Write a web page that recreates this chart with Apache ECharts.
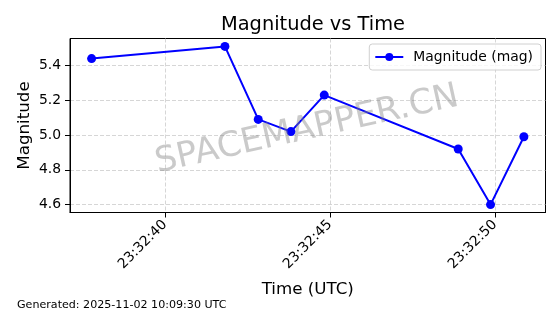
<!DOCTYPE html>
<html>
<head>
<meta charset="utf-8">
<script src="https://cdn.jsdelivr.net/npm/echarts@6/dist/echarts.min.js"></script>
<style>html,body{margin:0;padding:0;background:#fff}#c{width:560px;height:314px}</style>
</head>
<body>
<div id="c"></div>
<script>
// Time in seconds after 23:32:00 UTC
const timeSec = [37.78, 41.82, 42.83, 43.82, 44.83, 48.89, 49.87, 50.88];
const magnitude = [5.44, 5.51, 5.09, 5.02, 5.23, 4.92, 4.60, 4.99];
const xTicks = [40, 45, 50];
const yTicks = [4.6, 4.8, 5.0, 5.2, 5.4];
const timePrefix = '23:32:';
const titleText = 'Magnitude vs Time';
const seriesName = 'Magnitude (mag)';
const footerText = 'Generated: 2025-11-02 10:09:30 UTC';
const watermark = 'SPACEMAPPER.CN';

function pad(v){ const s = String(Math.round(v)); return s.length < 2 ? '0' + s : s; }
const xmin0 = Math.min(...timeSec), xmax0 = Math.max(...timeSec);
const ymin0 = Math.min(...magnitude), ymax0 = Math.max(...magnitude);
const xm = (xmax0 - xmin0) * 0.05, ym = (ymax0 - ymin0) * 0.05;

const FONT = 'DejaVu Sans';
const chart = echarts.init(document.getElementById('c'), null, {renderer: 'canvas'});
chart.setOption({
  animation: false,
  backgroundColor: '#fff',
  textStyle: {fontFamily: FONT},
  title: {
    text: titleText, left: 308, top: 10, textAlign: 'center',
    textStyle: {fontFamily: FONT, fontSize: 19.4, fontWeight: 'normal', color: '#000'}
  },
  grid: {left: 70, right: 14.5, top: 38.5, bottom: 101.5, show: true, borderColor: '#000', borderWidth: 1, containLabel: false},
  legend: {
    right: 19, top: 44,
    orient: 'vertical',
    backgroundColor: 'rgba(255,255,255,0.8)',
    borderColor: '#d0d0d0', borderWidth: 1, borderRadius: 3,
    padding: [6, 8, 6, 5],
    itemWidth: 28, itemHeight: 10,
    textStyle: {fontFamily: FONT, fontSize: 13.9, color: '#000', padding: [0, 0, 0, 5]},
    data: [seriesName]
  },
  xAxis: {
    type: 'value', min: xmin0 - xm, max: xmax0 + xm,
    name: 'Time (UTC)', nameLocation: 'middle', nameGap: 69, nameMoveOverlap: false,
    nameTextStyle: {fontFamily: FONT, fontSize: 16.7, color: '#000'},
    axisLine: {show: true, lineStyle: {color: '#000', width: 1}},
    axisTick: {show: true, length: 5, lineStyle: {color: '#000'}, customValues: xTicks},
    axisLabel: {
      customValues: xTicks, rotate: 45, margin: 10, color: '#000',
      fontFamily: FONT, fontSize: 13.9,
      formatter: v => timePrefix + pad(v)
    },
    splitLine: {show: true, lineStyle: {color: '#cccccc', width: 0.8, type: [4, 2]}}
  },
  yAxis: {
    type: 'value', min: ymin0 - ym, max: ymax0 + ym,
    name: 'Magnitude', nameLocation: 'middle', nameGap: 37, nameMoveOverlap: false,
    nameTextStyle: {fontFamily: FONT, fontSize: 16.7, color: '#000'},
    axisLine: {show: true, lineStyle: {color: '#000', width: 1}},
    axisTick: {show: true, length: 5, lineStyle: {color: '#000'}, customValues: yTicks},
    axisLabel: {
      customValues: yTicks, margin: 9, color: '#000',
      fontFamily: FONT, fontSize: 13.9,
      formatter: v => v.toFixed(1)
    },
    splitLine: {show: true, lineStyle: {color: '#cccccc', width: 0.8, type: [4, 2]}}
  },
  graphic: [
    {
      type: 'text', x: 307, y: 130, rotation: 12.5 * Math.PI / 180, z: 100,
      style: {text: watermark, fontFamily: FONT, fontSize: 34.5, fill: 'rgba(128,128,128,0.42)', align: 'center', verticalAlign: 'middle'}
    },
    {
      type: 'text', left: 17, top: 300,
      style: {text: footerText, fontFamily: FONT, fontSize: 11.1, fill: '#000'}
    }
  ],
  series: [{
    name: seriesName, type: 'line',
    data: timeSec.map((t, i) => [t, magnitude[i]]),
    color: '#0000ff',
    lineStyle: {color: '#0000ff', width: 2},
    itemStyle: {color: '#0000ff'},
    symbol: 'circle', symbolSize: 9, showSymbol: true
  }]
});
</script>
</body>
</html>
